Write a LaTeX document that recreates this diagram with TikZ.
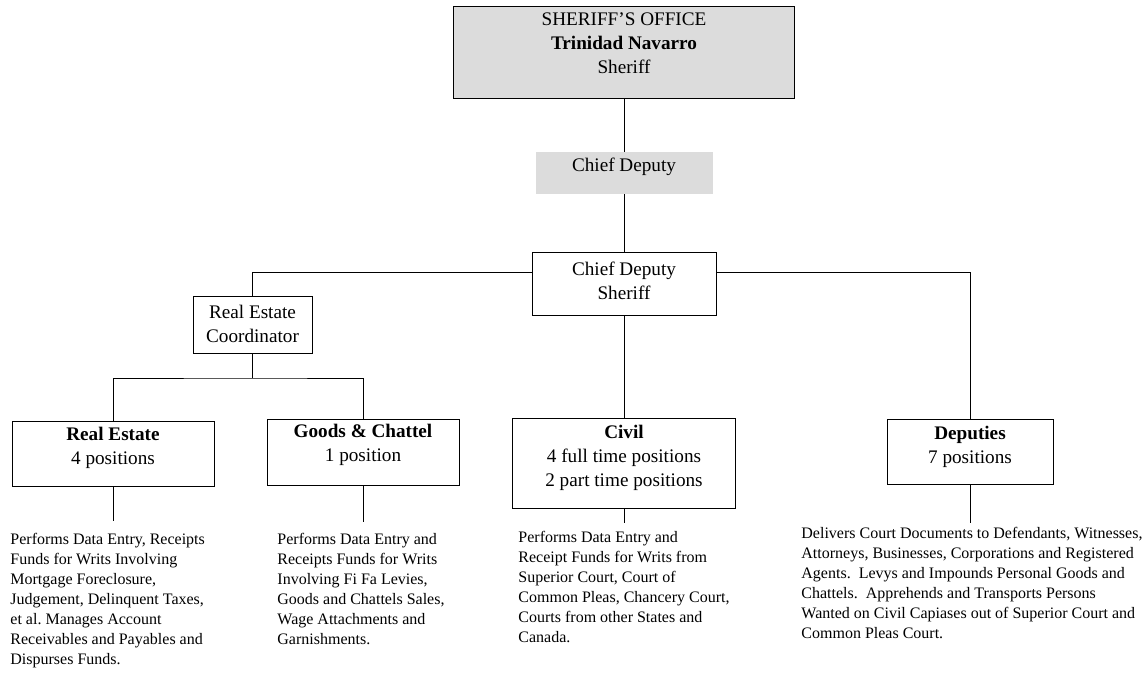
\documentclass[tikz,border=0pt]{standalone}
\usepackage{fontspec}
\setmainfont{Liberation Serif}
\frenchspacing
\definecolor{boxgray}{HTML}{DCDCDC}
\newcommand{\padbelow}[1]{\rule[-#1]{0pt}{#1}}

\begin{document}
\begin{tikzpicture}[x=0.75pt,y=-0.75pt,line width=0.65pt]
    \tikzstyle{unit}=[rectangle,draw=black,fill=white,align=center,inner sep=0pt,font=\fontsize{14.4}{18}\selectfont]
    \tikzstyle{duty}=[anchor=north west,align=left,inner sep=0pt,font=\fontsize{12}{15}\selectfont]
    \useasboundingbox (0,0) rectangle (1147,673);

    \node[unit,fill=boxgray,minimum width=255.75pt,minimum height=69pt] (B-sheriff) at (624,52)
        {SHERIFF'S OFFICE\\\textbf{Trinidad Navarro}\\Sheriff\padbelow{12.75pt}};
    \node[unit,draw=none,fill=boxgray,minimum width=132.75pt,minimum height=31.5pt] (B-chief) at (624,173)
        {Chief Deputy\padbelow{12.75pt}};
    \node[unit,minimum width=138pt,minimum height=47.25pt] (B-cds) at (624,283.5)
        {Chief Deputy\\Sheriff\padbelow{4pt}};
    \node[unit,minimum width=89.25pt,minimum height=42.75pt] (B-coord) at (252.5,324.5)
        {Real Estate\\Coordinator\padbelow{1pt}};
    \node[unit,minimum width=151.5pt,minimum height=48.75pt] (B-realest) at (113,453.5)
        {\textbf{Real Estate}\\4 positions\padbelow{12pt}};
    \node[unit,minimum width=144pt,minimum height=49.5pt] (B-goods) at (363,452)
        {\textbf{Goods \& Chattel}\\1 position\padbelow{13pt}};
    \node[unit,minimum width=167.25pt,minimum height=67.5pt] (B-civil) at (624,463)
        {\textbf{Civil}\\4 full time positions\\2 part time positions\padbelow{10.7pt}};
    \node[unit,minimum width=124.5pt,minimum height=48.75pt] (B-deputies) at (970,451.5)
        {\textbf{Deputies}\\7 positions\padbelow{9.75pt}};

    \node[duty] (T-realest) at (10,533)
        {Performs Data Entry, Receipts\\Funds for Writs Involving\\Mortgage Foreclosure,\\Judgement, Delinquent Taxes,\\et al. Manages Account\\Receivables and Payables and\\Dispurses Funds.};
    \node[duty] (T-goods) at (277,533)
        {Performs Data Entry and\\Receipts Funds for Writs\\Involving Fi Fa Levies,\\Goods and Chattels Sales,\\Wage Attachments and\\Garnishments.};
    \node[duty] (T-civil) at (518,531)
        {Performs Data Entry and\\Receipt Funds for Writs from\\Superior Court, Court of\\Common Pleas, Chancery Court,\\Courts from other States and\\Canada.};
    \node[duty] (T-deputies) at (801,527)
        {Delivers Court Documents to Defendants, Witnesses,\\Attorneys, Businesses, Corporations and Registered\\Agents.\ \ Levys and Impounds Personal Goods and\\Chattels.\ \ Apprehends and Transports Persons\\Wanted on Civil Capiases out of Superior Court and\\Common Pleas Court.};

    \coordinate (branch) at (624,272);
    \coordinate (split) at (252.5,378);

    \draw (B-sheriff) -- (B-chief);
    \draw (B-chief) -- (B-cds);
    \draw (B-cds) -- (B-civil);
    \draw (B-cds.west |- branch) -| (B-coord.north);
    \draw (B-cds.east |- branch) -| (B-deputies.north);
    \draw (B-coord) -- (split);
    \draw (B-realest.north) |- (split) -| (B-goods.north);

    \foreach \u/\gap in {realest/9pt, goods/8pt, civil/6pt, deputies/3pt}
        \draw[shorten >=\gap] (B-\u.south) -- (B-\u.south |- T-\u.north);
\end{tikzpicture}
\end{document}
